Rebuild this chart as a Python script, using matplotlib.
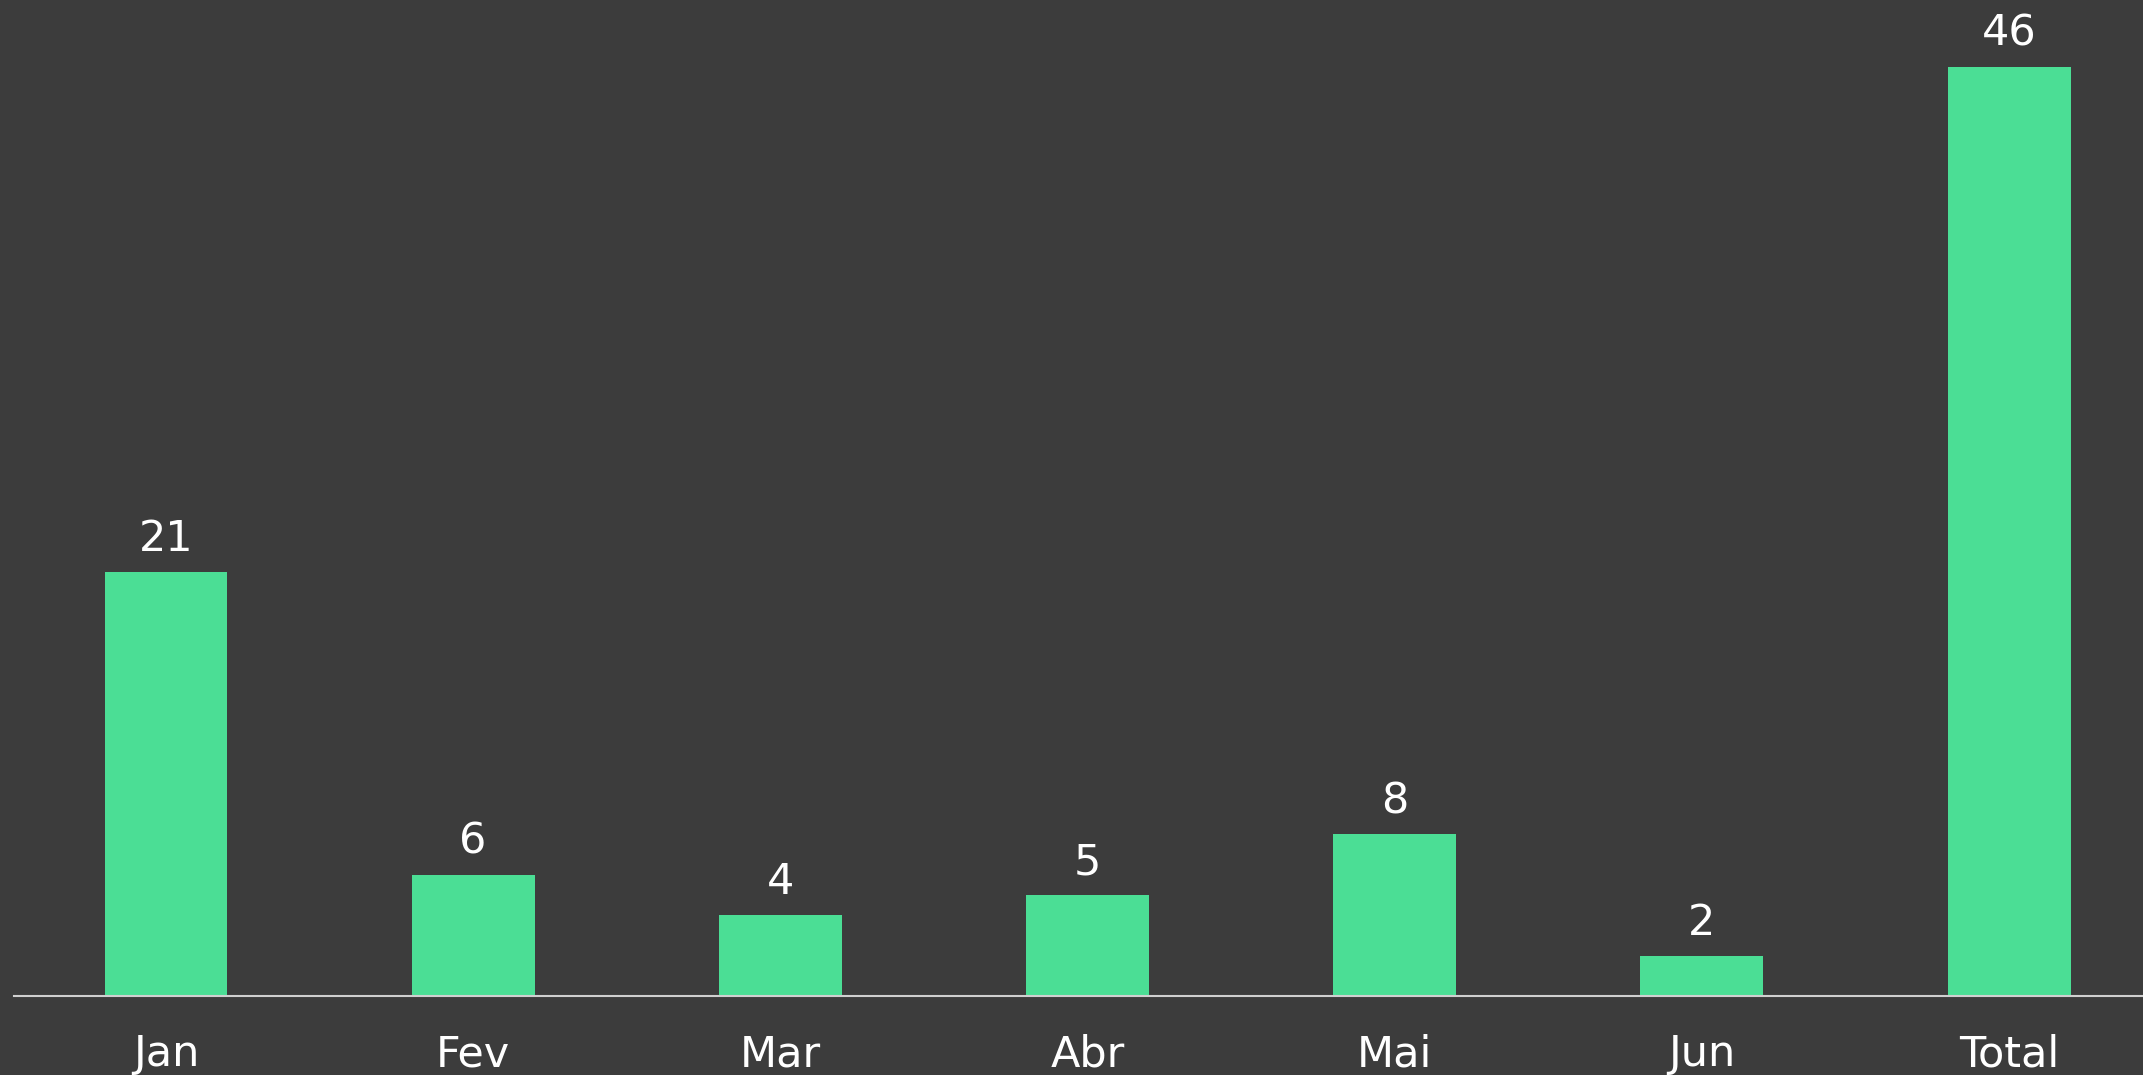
import matplotlib.pyplot as plt

months = ['Jan', 'Fev', 'Mar', 'Abr', 'Mai', 'Jun', 'Total']
values = [21, 6, 4, 5, 8, 2, 46]

bg = '#3c3c3c'
bar_color = '#4bde95'

fig = plt.figure(figsize=(21.43, 10.75), dpi=100, facecolor=bg)
ax = fig.add_axes([0.0065, 0.0735, 0.9935, 0.9265])
ax.set_facecolor(bg)

x = range(len(months))
bars = ax.bar(x, values, width=0.4, color=bar_color)

# value labels above the bars
for b, v in zip(bars, values):
    ax.annotate(str(v), (b.get_x() + b.get_width() / 2, v),
                xytext=(0, 8.5), textcoords='offset points',
                ha='center', va='bottom', color='white', fontsize=31)

ax.set_xlim(-0.495, 6.436)
ax.set_ylim(0, 49.3)
ax.set_xticks(list(x))
ax.set_xticklabels(months, color='white', fontsize=31)
ax.tick_params(axis='x', length=0, pad=27)
ax.set_yticks([])
for s in ['top', 'right', 'left']:
    ax.spines[s].set_visible(False)
ax.spines['bottom'].set_color('#d0d0d0')
ax.spines['bottom'].set_linewidth(1.5)

fig.savefig('out.png', dpi=100, facecolor=bg)
